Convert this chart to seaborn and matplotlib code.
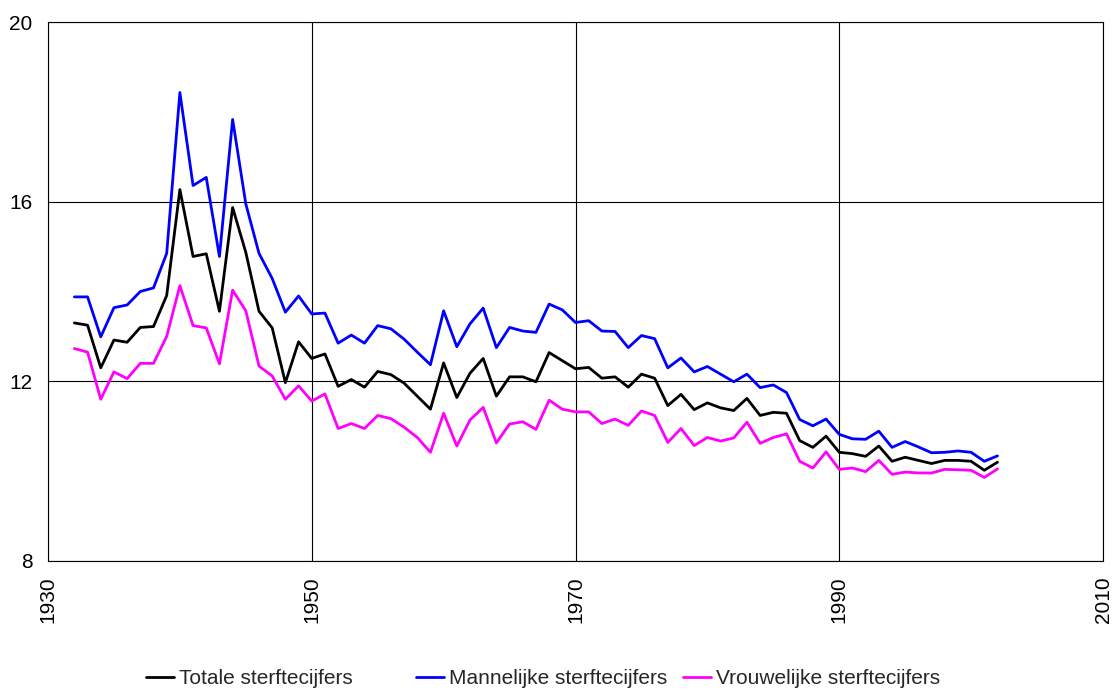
import numpy as np
import pandas as pd
import seaborn as sns
import matplotlib.pyplot as plt
from matplotlib.lines import Line2D

# jaren en sterftecijfers (per 1000 inwoners)
years = list(range(1932, 2003))

totaal = [13.30, 13.25, 12.30, 12.92, 12.87, 13.20, 13.22, 13.91, 16.27, 14.78,
          14.84, 13.56, 15.87, 14.87, 13.56, 13.19, 11.97, 12.88, 12.51, 12.61,
          11.89, 12.04, 11.87, 12.22, 12.15, 11.96, 11.67, 11.38, 12.41, 11.64,
          12.18, 12.51, 11.67, 12.10, 12.10, 11.99, 12.64, 12.46, 12.28, 12.31,
          12.07, 12.10, 11.87, 12.16, 12.07, 11.46, 11.71, 11.37, 11.52, 11.41,
          11.35, 11.62, 11.24, 11.31, 11.29, 10.68, 10.53, 10.78, 10.42, 10.39,
          10.33, 10.56, 10.22, 10.31, 10.24, 10.17, 10.24, 10.24, 10.22, 10.02,
          10.20]

mannen = [13.88, 13.88, 12.99, 13.64, 13.70, 14.00, 14.08, 14.85, 18.43, 16.36,
          16.54, 14.78, 17.83, 15.95, 14.85, 14.29, 13.54, 13.90, 13.50, 13.52,
          12.85, 13.03, 12.85, 13.24, 13.17, 12.94, 12.65, 12.37, 13.57, 12.77,
          13.28, 13.63, 12.75, 13.20, 13.12, 13.09, 13.72, 13.59, 13.31, 13.35,
          13.12, 13.11, 12.75, 13.02, 12.95, 12.30, 12.52, 12.21, 12.33, 12.16,
          11.99, 12.16, 11.86, 11.92, 11.75, 11.15, 11.01, 11.16, 10.82, 10.72,
          10.71, 10.89, 10.53, 10.66, 10.54, 10.41, 10.42, 10.45, 10.42, 10.22,
          10.34]

vrouwen = [12.73, 12.65, 11.60, 12.21, 12.06, 12.40, 12.40, 13.00, 14.13, 13.24,
           13.19, 12.39, 14.03, 13.57, 12.34, 12.12, 11.60, 11.90, 11.56, 11.72,
           10.95, 11.06, 10.95, 11.24, 11.17, 10.98, 10.75, 10.42, 11.29, 10.56,
           11.14, 11.42, 10.63, 11.05, 11.10, 10.93, 11.58, 11.38, 11.32, 11.32,
           11.06, 11.16, 11.02, 11.34, 11.24, 10.64, 10.95, 10.57, 10.75, 10.67,
           10.74, 11.09, 10.62, 10.75, 10.83, 10.22, 10.07, 10.43, 10.04, 10.07,
           9.99, 10.24, 9.93, 9.98, 9.96, 9.96, 10.04, 10.03, 10.02, 9.86,
           10.05]

labels = ["Totale sterftecijfers", "Mannelijke sterftecijfers", "Vrouwelijke sterftecijfers"]
colors = ["#000000", "#0000ff", "#ff00ff"]

df = pd.DataFrame({"jaar": years * 3,
                   "waarde": totaal + mannen + vrouwen,
                   "reeks": np.repeat(labels, len(years))})

sns.set_style("white")
plt.rcParams['font.family'] = ['Liberation Sans', 'DejaVu Sans']

fig = plt.figure(figsize=(11.17, 6.9), dpi=100)
ax = fig.add_axes([48 / 1117, 1 - 561 / 690, (1103 - 48) / 1117, (561 - 22) / 690])

sns.lineplot(data=df, x="jaar", y="waarde", hue="reeks", palette=colors,
             linewidth=2.0, legend=False, ax=ax, zorder=3)

ax.set_xlim(1930, 2010)
ax.set_ylim(8, 20)
ax.set_xticks([1930, 1950, 1970, 1990, 2010])
ax.set_yticks([8, 12, 16, 20])
ax.set_xlabel("")
ax.set_ylabel("")
ax.grid(True, color="black", linewidth=0.8)
for s in ax.spines.values():
    s.set_color("black")
    s.set_linewidth(0.8)
ax.tick_params(axis="both", direction="out", length=5, width=0.8, color="black",
               labelsize=15, labelcolor="black")
ax.tick_params(axis="y", pad=6)
ax.tick_params(axis="x", labelrotation=90, pad=6)

# legenda onder de grafiek, drie losse items
leg_x = [146 / 1117, 416 / 1117, 683 / 1117]
for c, lab, x in zip(colors, labels, leg_x):
    h = Line2D([], [], color=c, linewidth=2.0)
    fig.legend(handles=[h], labels=[lab], loc="center left",
               bbox_to_anchor=(x, 1 - 679 / 690), frameon=False,
               handlelength=1.35, handletextpad=0.25, borderpad=0, borderaxespad=0,
               prop={"family": ["Liberation Sans Narrow", "Liberation Sans"], "size": 15})

fig.savefig("out.png", dpi=100)
